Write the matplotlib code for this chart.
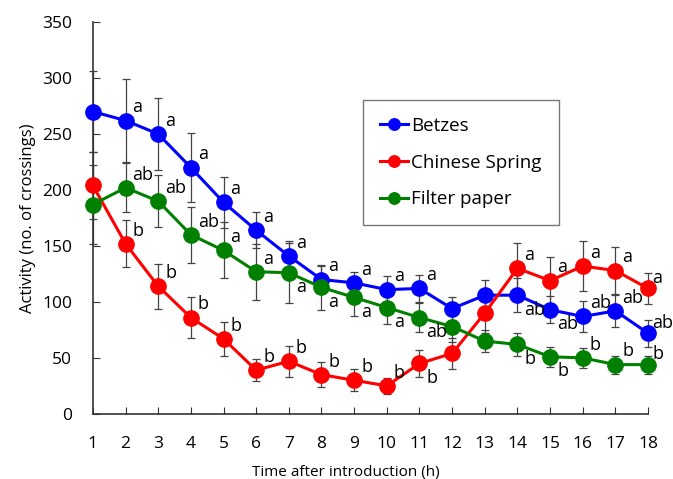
import matplotlib.pyplot as plt

plt.rcParams['font.family'] = ['Open Sans', 'DejaVu Sans']

hours = list(range(1, 19))

betzes = [270, 262, 250, 220, 189, 164, 141, 120, 117, 111, 112, 94, 106, 106, 93, 87, 92, 72]
betzes_err = [36, 37, 32, 31, 23, 16, 13, 12, 10, 12, 12, 10, 14, 15, 12, 14, 14, 12]
chinese = [204, 152, 114, 86, 67, 39, 47, 35, 30, 25, 45, 54, 90, 130, 119, 132, 128, 112]
chinese_err = [30, 21, 20, 18, 15, 10, 14, 11, 10, 7, 12, 14, 18, 23, 21, 22, 21, 14]
filter_paper = [187, 202, 190, 160, 146, 127, 126, 113, 104, 95, 86, 78, 65, 62, 51, 50, 44, 44]
filter_err = [35, 22, 23, 25, 25, 25, 27, 20, 17, 15, 13, 14, 10, 10, 9, 9, 8, 8]

betzes_lbl = ['', 'a', 'a', 'a', 'a', 'a', 'a', 'a', 'a', 'a', 'a', '', '', 'ab', 'ab', 'ab', 'ab', 'ab']
chinese_lbl = ['', 'b', 'b', 'b', 'b', 'b', 'b', 'b', 'b', 'b', 'b', '', '', 'a', 'a', 'a', 'a', 'a']
filter_lbl = ['', 'ab', 'ab', 'ab', 'a', 'a', 'a', 'a', 'a', 'a', 'ab', '', '', 'b', 'b', 'b', 'b', 'b']

# where the letter sits: 'u' upper right, 'd' lower right, 'r' right
betzes_pos = ['u'] * 13 + ['d', 'd', 'u', 'u', 'r']
chinese_pos = ['u'] * 10 + ['d', 'u', 'u', 'u', 'u', 'u', 'u', 'r']
filter_pos = ['u'] * 6 + ['d', 'd', 'd', 'd', 'd', 'u', 'u', 'd', 'd', 'u', 'u', 'r']

fig = plt.figure(figsize=(6.73, 4.79), dpi=100)
ax = fig.add_axes([0.138, 0.136, 0.825, 0.818])

series = [
    (betzes, betzes_err, betzes_lbl, betzes_pos, 'blue', 'Betzes'),
    (chinese, chinese_err, chinese_lbl, chinese_pos, 'red', 'Chinese Spring'),
    (filter_paper, filter_err, filter_lbl, filter_pos, 'green', 'Filter paper'),
]

for vals, errs, lbls, poss, col, name in series:
    ax.errorbar(hours, vals, yerr=errs, fmt='none', ecolor='#444444',
                elinewidth=0.9, capsize=3, capthick=0.9, zorder=2, clip_on=False)
    ax.plot(hours, vals, '-o', color=col, lw=2.2, ms=11, label=name,
            zorder=3, clip_on=False)
    for x, y, t, p in zip(hours, vals, lbls, poss):
        if not t:
            continue
        if p == 'u':
            off, va = (5, 3), 'bottom'
        elif p == 'd':
            off, va = (5, -4), 'top'
        else:
            off, va = (3, 1), 'bottom'
        ax.annotate(t, (x, y), xytext=off, textcoords='offset points',
                    fontsize=13, ha='left', va=va, zorder=4)

ax.set_xlim(1, 18)
ax.set_ylim(0, 350)
ax.set_xticks(hours)
ax.set_yticks(range(0, 351, 50))
ax.tick_params(direction='in', length=5, labelsize=12.5, color='#333333')
ax.tick_params(axis='y', pad=15)
ax.tick_params(axis='x', pad=16)
for s in ['top', 'right']:
    ax.spines[s].set_visible(False)
for s in ['left', 'bottom']:
    ax.spines[s].set_color('#333333')
    ax.spines[s].set_linewidth(1.2)

ax.set_xlabel('Time after introduction (h)', fontsize=11, labelpad=8)
ax.xaxis.set_label_coords(0.455, -0.13)
ax.set_ylabel('Activity (no. of crossings)', fontsize=12, labelpad=4)

leg = ax.legend(loc='upper left', bbox_to_anchor=(0.486, 0.801), fontsize=13.5,
                fancybox=False, edgecolor='#555555', markerscale=0.75,
                handlelength=1.5, borderpad=0.9, labelspacing=1.0, handletextpad=0.2,
                borderaxespad=0)
leg.get_frame().set_linewidth(1.0)

fig.savefig('out.png', dpi=100)
